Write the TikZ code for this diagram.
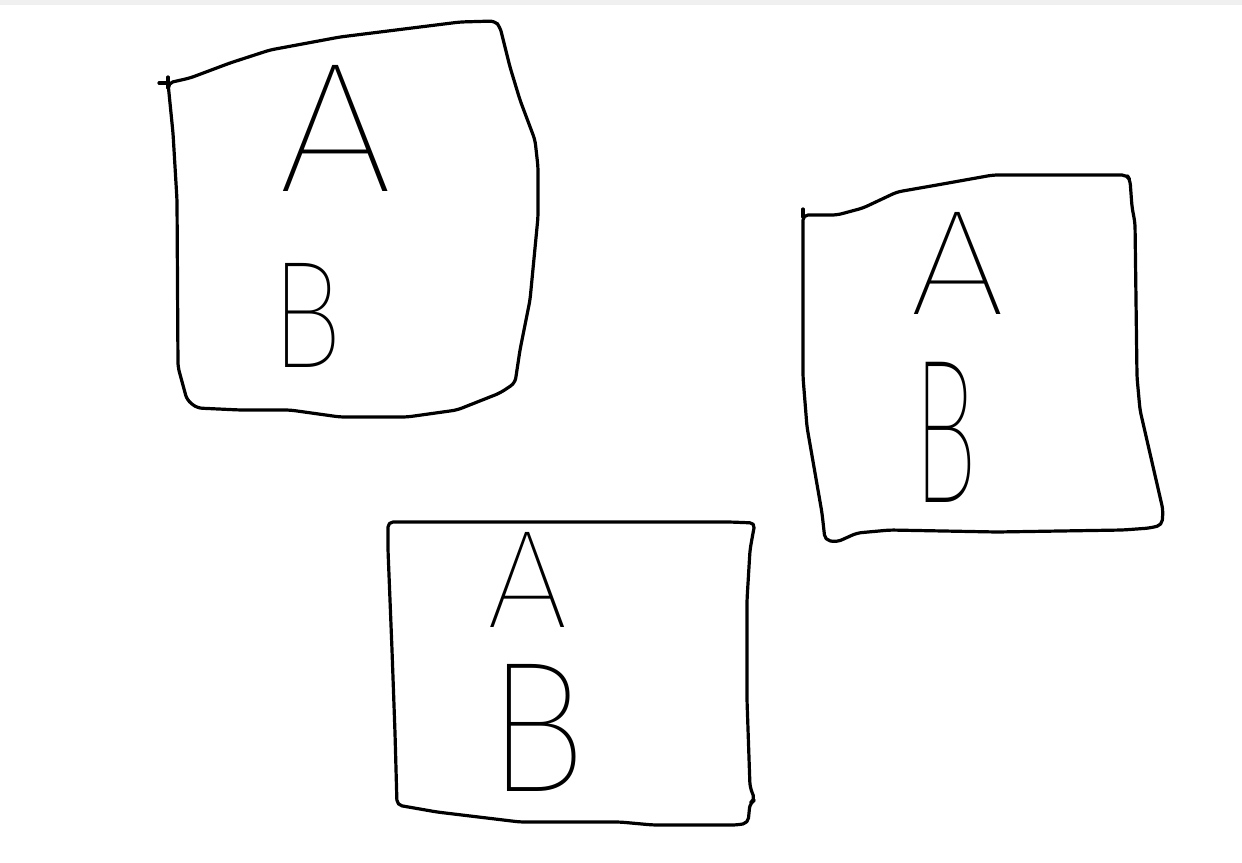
\documentclass[tikz,border=0pt]{standalone}
\usepackage{fontspec}
\usepackage{graphicx}
\IfFontExistsTF{Fira Sans Thin}{\newfontfamily\thinfont{Fira Sans Thin}}{\newfontfamily\thinfont{DejaVu Sans}}
\definecolor{stripgray}{RGB}{240,240,240}
\begin{document}
\begin{tikzpicture}[x=1pt,y=-1pt, line width=3.2pt, line join=round, line cap=round,
  box/.style={draw=black, rounded corners=5pt},
  letter/.style={inner sep=0pt, font=\thinfont}]
\useasboundingbox (0,0) rectangle (1242,862);
\fill[stripgray] (0,0) rectangle (1242,5);
% box 1
\draw[box] (168,83) -- (190,78) -- (230,63) -- (270,50) -- (340,37) -- (460,22) -- (495,21) -- (500,27) -- (510,67) -- (520,100) -- (535,140) -- (538,167) -- (538,217) -- (530,300) -- (520,350) -- (515,383) -- (500,393) -- (457,410) -- (407,417) -- (340,417) -- (290,410) -- (240,410) -- (197,408) -- (187,400) -- (178,367) -- (177,200) -- (173,133) -- cycle;
\draw (159,83) -- (168,83) (168,77) -- (168,88);
\node[letter] (a1) at (336,128) {\resizebox{116pt}{126pt}{A}};
\node[letter] (b1) at (307,315) {\resizebox{72pt}{104pt}{B}};
% box 2
\draw[box] (803,215) -- (837,215) -- (863,208) -- (897,192) -- (937,185) -- (993,175) -- (1127,175) -- (1130,180) -- (1132,207) -- (1135,223) -- (1137,377) -- (1140,410) -- (1163,510) -- (1162,525) -- (1150,528) -- (1123,530) -- (997,532) -- (890,530) -- (857,533) -- (837,542) -- (825,540) -- (822,513) -- (807,427) -- (803,377) -- cycle;
\draw (803,209) -- (803,217);
\node[letter] (a2) at (958,263) {\resizebox{96pt}{102pt}{A}};
\node[letter] (b2) at (945,432) {\resizebox{65pt}{140pt}{B}};
% box 3
\draw[box] (388,522) -- (730,522) -- (755,523) -- (753,533) -- (750,550) -- (747,600) -- (747,700) -- (750,787) -- (755,800) -- (750,803) -- (748,823) -- (737,825) -- (653,825) -- (620,822) -- (520,822) -- (437,812) -- (397,805) -- (395,733) -- (392,650) -- (388,550) -- cycle;
\node[letter] (a3) at (528,580) {\resizebox{82pt}{95pt}{A}};
\node[letter] (b3) at (537,728) {\resizebox{100pt}{127pt}{B}};
\end{tikzpicture}
\end{document}
